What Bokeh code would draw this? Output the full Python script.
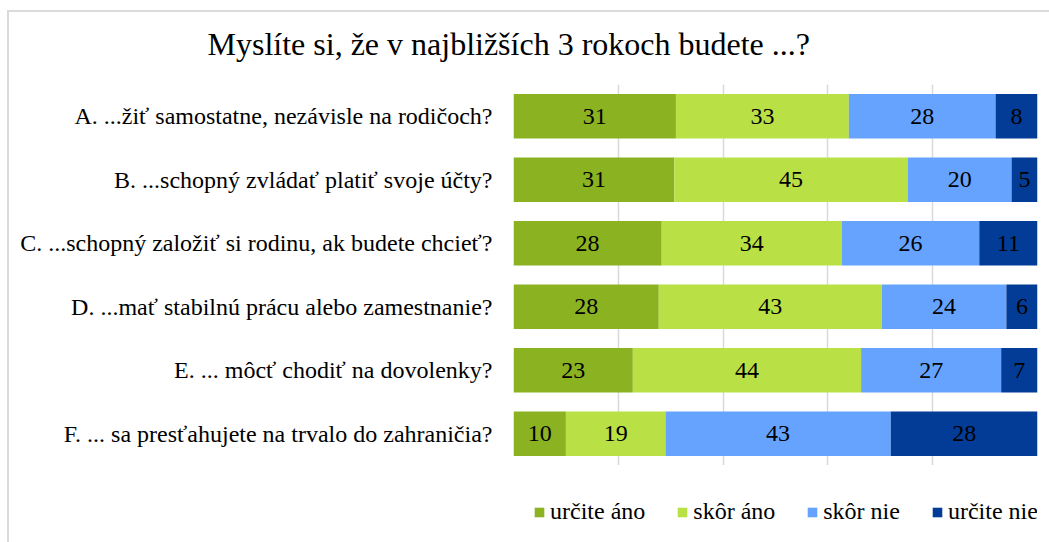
from bokeh.plotting import figure
from bokeh.layouts import column
from bokeh.models import (FactorRange, Range1d, FixedTicker, Legend, LegendItem,
                          ColumnDataSource)
from bokeh.core.properties import value
from bokeh.embed import file_html
from bokeh.resources import INLINE

title_text = "Myslíte si, že v najbližších 3 rokoch budete ...?"
categories = [
    "A. ...žiť samostatne, nezávisle na rodičoch?",
    "B. ...schopný zvládať platiť svoje účty?",
    "C. ...schopný založiť si rodinu, ak budete chcieť?",
    "D. ...mať stabilnú prácu alebo zamestnanie?",
    "E. ... môcť chodiť na dovolenky?",
    "F. ... sa presťahujete na trvalo do zahraničia?",
]
series_names = ["určite áno", "skôr áno", "skôr nie", "určite nie"]
urcite_ano = [31, 31, 28, 28, 23, 10]
skor_ano = [33, 45, 34, 43, 44, 19]
skor_nie = [28, 20, 26, 24, 27, 43]
urcite_nie = [8, 5, 11, 6, 7, 28]
colors = ["#8BB220", "#B9E146", "#65A3FF", "#033C96"]
x_ticks = [0, 20, 40, 60, 80, 100]

series = [urcite_ano, skor_ano, skor_nie, urcite_nie]
totals = [sum(s[i] for s in series) for i in range(len(categories))]

SERIF = "Liberation Serif"
LINE = "#DADADA"

p = figure(width=1049, height=465, output_backend="svg", toolbar_location=None,
           y_range=FactorRange(factors=list(reversed(categories)), range_padding=0),
           x_range=Range1d(0, 100),
           min_border_left=513, min_border_right=12, min_border_top=81, min_border_bottom=0)
p.outline_line_color = None
p.background_fill_color = "white"
p.border_fill_color = None
p.styles = {
    "background-color": "white",
    "background-image": f"linear-gradient({LINE}, {LINE}), linear-gradient({LINE}, {LINE})",
    "background-repeat": "no-repeat",
    "background-size": "1041px 2px, 2px 460px",
    "background-position": "8px 10px, 7px 10px",
}

p.title.text = title_text
p.title.align = "left"
p.title.offset = -306
p.title.standoff = 46
p.title.vertical_align = "bottom"
p.title.text_font = SERIF
p.title.text_font_size = "32px"
p.title.text_font_style = "normal"
p.title.text_color = "#000000"

# grid
p.xaxis.visible = False
p.xgrid.ticker = FixedTicker(ticks=x_ticks)
p.xgrid.grid_line_color = "#D9D9D9"
p.xgrid.grid_line_width = 1.5
p.ygrid.grid_line_color = None

yax = p.yaxis[0]
yax.axis_line_color = None
yax.major_tick_line_color = None
yax.minor_tick_line_color = None
yax.major_tick_out = 0
yax.major_tick_in = 0
yax.major_label_standoff = 21
yax.major_label_text_font = SERIF
yax.major_label_text_font_size = "24px"
yax.major_label_text_color = "#000000"

# legend strip below the chart (its frame is aligned with the chart's frame)
lg = figure(width=1049, height=77, output_backend="svg", toolbar_location=None,
            x_range=Range1d(0, 1), y_range=Range1d(0, 1),
            x_axis_type=None, y_axis_type=None,
            min_border_left=513, min_border_right=12, min_border_top=13, min_border_bottom=0)
lg.outline_line_color = None
lg.grid.visible = False
lg.background_fill_color = None
lg.border_fill_color = None
lg.styles = {
    "background-color": "white",
    "background-image": f"linear-gradient({LINE}, {LINE})",
    "background-repeat": "no-repeat",
    "background-size": "2px 77px",
    "background-position": "7px 0px",
}

legend_items = []
left = [0.0] * len(categories)
for name, vals, col in zip(series_names, series, colors):
    pct = [v / t * 100 for v, t in zip(vals, totals)]
    right = [l + w for l, w in zip(left, pct)]
    mid = [(l + r) / 2 for l, r in zip(left, right)]
    src = ColumnDataSource(dict(y=categories, left=left, right=right, mid=mid,
                                lab=[str(v) for v in vals]))
    p.hbar(y="y", left="left", right="right", height=0.70, source=src,
           fill_color=col, line_color=None)
    p.text(x="mid", y="y", text="lab", source=src, text_align="center",
           text_baseline="middle", text_font=value(SERIF), text_font_size="24px",
           text_color="#000000")
    # legend proxy, kept outside the visible range of the legend strip
    proxy = ColumnDataSource(dict(y=[-10], left=[0], right=[1]))
    r2 = lg.hbar(y="y", left="left", right="right", height=0.5, source=proxy,
                 fill_color=col, line_color=None)
    legend_items.append(LegendItem(label=name, renderers=[r2]))
    left = right

legend = Legend(items=legend_items, orientation="horizontal", location="top_left",
                glyph_width=12, glyph_height=12, label_standoff=5, spacing=31,
                padding=0, margin=20, border_line_color=None,
                background_fill_alpha=0,
                label_text_font=SERIF, label_text_font_size="24px",
                label_text_color="#000000")
lg.add_layout(legend, "center")

layout = column(p, lg, spacing=0)
open("out.html", "w").write(file_html(layout, INLINE))
